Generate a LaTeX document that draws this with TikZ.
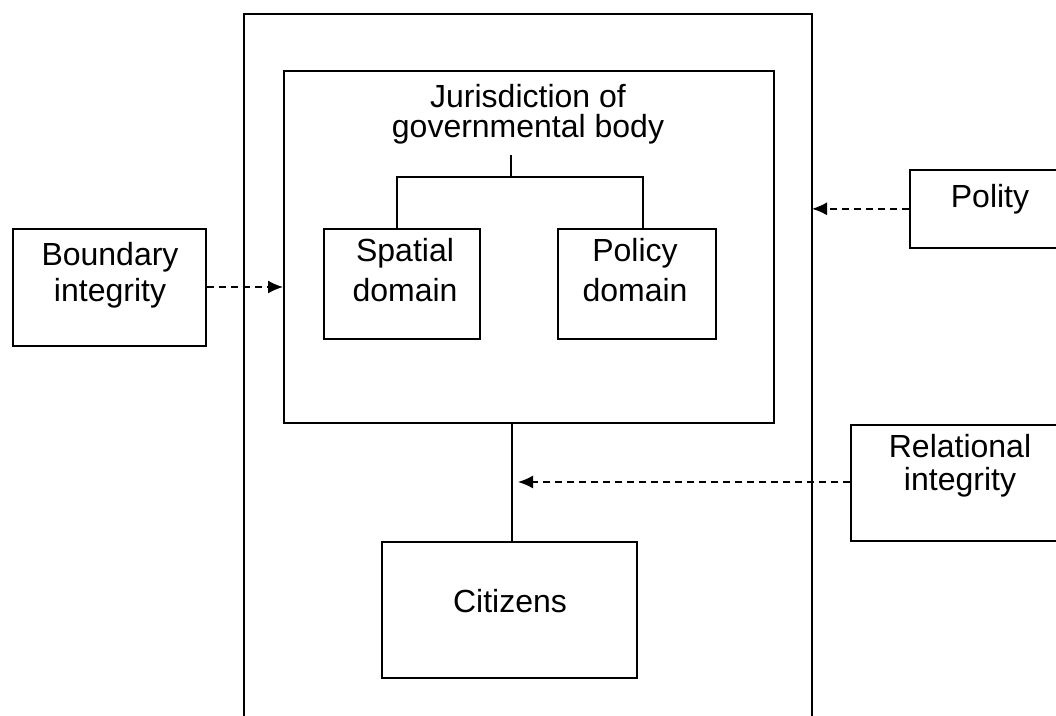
\documentclass[tikz,border=0pt]{standalone}
\usepackage{fontspec}
\setmainfont{Liberation Sans}
\usetikzlibrary{arrows.meta}
\begin{document}
\begin{tikzpicture}[x=1pt,y=-1pt,
  boxline/.style={draw=black,line width=1.6pt},
  lbl/.style={font=\fontsize{32}{36}\selectfont,align=center,inner sep=0pt,anchor=base},
  conn/.style={draw=black,line width=1.6pt},
  dasharrow/.style={draw=black,line width=1.6pt,dash pattern=on 7pt off 5pt,-{Latex[length=15pt,width=13pt]}}]
\useasboundingbox (0,0) rectangle (1056,715);
\clip (0,0) rectangle (1056,715);
% boxes
\draw[boxline] (244,14) rectangle (812,740);
\coordinate (outerE) at (812,300);
\node[boxline,rectangle,inner sep=0pt,minimum width=490pt,minimum height=352pt,anchor=north west] (jur) at (283,70) {};
\node[boxline,rectangle,inner sep=0pt,minimum width=156pt,minimum height=110pt,anchor=north west] (spa) at (323,228) {};
\node[boxline,rectangle,inner sep=0pt,minimum width=158pt,minimum height=110pt,anchor=north west] (pol) at (557,228) {};
\node[boxline,rectangle,inner sep=0pt,minimum width=193pt,minimum height=117pt,anchor=north west] (bnd) at (12,228) {};
\node[boxline,rectangle,inner sep=0pt,minimum width=200pt,minimum height=78pt,anchor=north west] (ply) at (909,169) {};
\node[boxline,rectangle,inner sep=0pt,minimum width=260pt,minimum height=116pt,anchor=north west] (rel) at (850,424) {};
\node[boxline,rectangle,inner sep=0pt,minimum width=255pt,minimum height=136pt,anchor=north west] (cit) at (381,541) {};
% labels (anchor base = baseline of last line)
\node[lbl] (jurT) at (528,137) {Jurisdiction of\\[-6pt]governmental body};
\node[lbl] (spaT) at (405,301) {Spatial\\[4pt]domain};
\node[lbl] (polT) at (635,301) {Policy\\[4pt]domain};
\node[lbl] (bndT) at (110,301) {Boundary\\[0pt]integrity};
\node[lbl] (plyT) at (990,207) {Polity};
\node[lbl] (relT) at (960,490) {Relational\\[-3pt]integrity};
\node[lbl] (citT) at (510,612) {Citizens};
% tree connectors
\coordinate (jt) at (511,155);
\coordinate (jb) at (511,177);
\draw[conn] (jt) -- (jb);
\draw[conn] ([xshift=-5pt]spa.north) |- (jb) -| ([xshift=6pt]pol.north);
\coordinate (cl) at (512,422);
\draw[conn] (cl) -- (cl |- cit.north);
% dashed arrows
\draw[dasharrow] (bnd.east |- 0,287) -- (jur.west |- 0,287);
\draw[dasharrow] (ply.west) -- (ply.west -| outerE);
\draw[dasharrow] (rel.west |- 0,482) -- ([xshift=6pt]cl |- 0,482);
\end{tikzpicture}
\end{document}
